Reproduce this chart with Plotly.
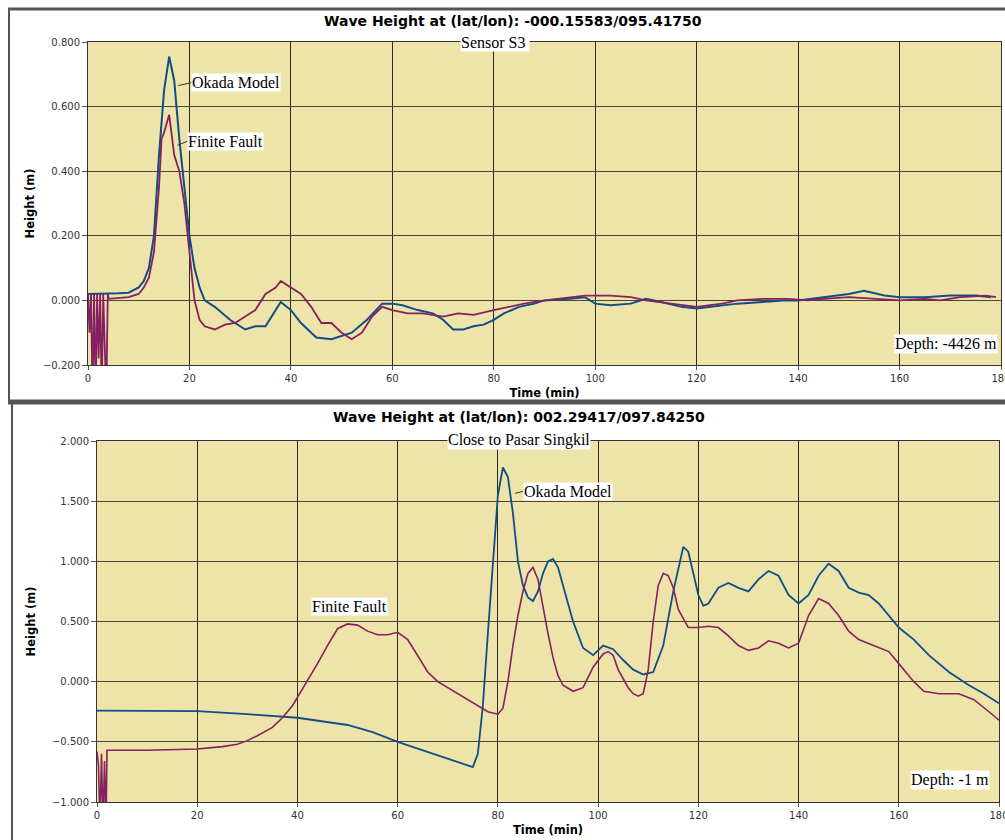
import plotly.graph_objects as go

# ---------------- data: top panel (Sensor S3) ----------------
top_okada_t = [0, 2, 4, 6, 8, 10, 11, 12, 13, 14, 15, 16, 17, 18, 19, 20, 21, 22, 23, 25, 28, 31, 33, 35,
               38, 40, 42, 45, 48, 50, 52, 55, 58, 60, 62, 65, 68, 70, 72, 74, 76, 78, 80, 82, 85, 88,
               90, 95, 98, 100, 103, 107, 110, 113, 117, 120, 125, 128, 133, 137, 140, 145, 150, 153,
               157, 160, 165, 170, 175, 178]
top_okada_h = [0.020, 0.020, 0.021, 0.022, 0.024, 0.040, 0.060, 0.100, 0.200, 0.450, 0.650, 0.755, 0.680,
               0.500, 0.350, 0.200, 0.100, 0.040, 0.000, -0.020, -0.060, -0.090, -0.080, -0.080,
               -0.005, -0.030, -0.070, -0.115, -0.120, -0.110, -0.100, -0.060, -0.010, -0.010,
               -0.015, -0.030, -0.040, -0.060, -0.090, -0.090, -0.080, -0.075, -0.060, -0.040,
               -0.020, -0.010, 0.000, 0.005, 0.010, -0.010, -0.015, -0.010, 0.005, -0.005, -0.020,
               -0.025, -0.015, -0.010, -0.005, 0.000, 0.000, 0.010, 0.020, 0.030, 0.015, 0.010,
               0.010, 0.015, 0.015, 0.010]

top_ff_t = [0, 0.3, 0.6, 0.9, 1.2, 1.5, 1.8, 2.1, 2.4, 2.7, 3.0, 3.3, 3.6, 3.9, 4.1, 8, 10, 11, 12, 13,
            14, 14.5, 15, 16, 17, 18, 19, 20, 21, 22, 23, 25, 27, 29, 31, 33, 35, 37, 38, 40, 42, 44,
            46, 48, 50, 52, 54, 56, 58, 60, 63, 66, 70, 73, 76, 80, 83, 86, 90, 95, 98, 103, 107, 110,
            115, 120, 125, 128, 133, 138, 142, 145, 150, 155, 160, 165, 168, 172, 177, 179]
top_ff_h = [0.020, -0.100, 0.020, -0.300, 0.020, -0.300, 0.020, -0.180, 0.020, -0.300, 0.020, -0.180,
            -0.300, 0.020, 0.005, 0.010, 0.020, 0.040, 0.070, 0.150, 0.350, 0.500, 0.520, 0.575, 0.450,
            0.400, 0.300, 0.150, 0.000, -0.060, -0.080, -0.090, -0.075, -0.070, -0.050, -0.030, 0.020,
            0.040, 0.060, 0.040, 0.020, -0.020, -0.070, -0.070, -0.100, -0.120, -0.100, -0.050,
            -0.020, -0.030, -0.040, -0.040, -0.050, -0.040, -0.045, -0.030, -0.020, -0.010, 0.000,
            0.010, 0.015, 0.015, 0.010, 0.000, -0.010, -0.020, -0.010, 0.000, 0.005, 0.005, 0.000,
            0.005, 0.010, 0.005, 0.000, 0.005, 0.000, 0.010, 0.015, 0.010]

# ---------------- data: bottom panel (Close to Pasar Singkil) ----------------
bot_okada_t = [0, 10, 20, 30, 40, 50, 55, 60, 65, 70, 74, 75, 76, 77, 78, 79, 80, 81, 82, 83, 84, 85,
               86, 87, 88, 89, 90, 91, 92, 93, 95, 97, 99, 101, 103, 105, 107, 109, 111, 113, 115,
               117, 118, 119, 120, 121, 122, 124, 126, 128, 130, 132, 134, 136, 138, 140, 142, 144,
               146, 148, 150, 152, 154, 156, 158, 160, 163, 166, 170, 174, 177, 180]
bot_okada_h = [-0.240, -0.240, -0.245, -0.270, -0.300, -0.360, -0.420, -0.500, -0.570, -0.640, -0.700,
               -0.710, -0.600, -0.200, 0.400, 1.000, 1.550, 1.780, 1.700, 1.400, 1.000, 0.800, 0.700,
               0.670, 0.750, 0.900, 1.000, 1.020, 0.950, 0.800, 0.500, 0.280, 0.220, 0.300, 0.270,
               0.180, 0.100, 0.060, 0.080, 0.300, 0.750, 1.120, 1.080, 0.900, 0.720, 0.630, 0.650,
               0.780, 0.820, 0.780, 0.750, 0.850, 0.920, 0.880, 0.720, 0.650, 0.720, 0.880, 0.980,
               0.920, 0.780, 0.740, 0.720, 0.650, 0.550, 0.450, 0.350, 0.220, 0.080, -0.030, -0.100,
               -0.180]

bot_ff_t = [0, 0.3, 0.6, 0.9, 1.2, 1.5, 1.8, 2.0, 10, 20, 25, 28, 30, 32, 35, 37, 39, 40, 42, 44, 46,
            48, 50, 52, 54, 56, 58, 60, 62, 64, 66, 68, 70, 72, 74, 76, 78, 80, 81, 82, 83, 84, 85, 86,
            87, 88, 89, 90, 91, 92, 93, 95, 97, 99, 101, 102, 103, 104, 106, 107, 108, 109, 110, 111,
            112, 113, 114, 115, 116, 118, 120, 122, 124, 126, 128, 130, 132, 134, 136, 138, 140, 142,
            144, 146, 148, 150, 152, 155, 158, 160, 163, 165, 168, 172, 175, 178, 180]
bot_ff_h = [-0.580, -0.700, -1.200, -0.600, -1.200, -0.660, -1.200, -0.570, -0.570, -0.560, -0.540,
            -0.520, -0.490, -0.450, -0.380, -0.300, -0.200, -0.130, 0.000, 0.150, 0.300, 0.440,
            0.480, 0.470, 0.420, 0.390, 0.390, 0.410, 0.350, 0.220, 0.080, 0.000, -0.050, -0.100,
            -0.150, -0.200, -0.250, -0.270, -0.220, 0.000, 0.300, 0.550, 0.750, 0.900, 0.950, 0.850,
            0.620, 0.400, 0.200, 0.050, -0.030, -0.080, -0.050, 0.120, 0.230, 0.250, 0.220, 0.100,
            -0.050, -0.100, -0.120, -0.100, 0.100, 0.500, 0.800, 0.900, 0.880, 0.780, 0.600, 0.450,
            0.450, 0.460, 0.450, 0.380, 0.300, 0.260, 0.280, 0.340, 0.320, 0.280, 0.320, 0.550,
            0.690, 0.650, 0.550, 0.420, 0.350, 0.300, 0.250, 0.150, 0.000, -0.080, -0.100, -0.100,
            -0.150, -0.250, -0.320]

x_ticks = [0, 20, 40, 60, 80, 100, 120, 140, 160, 180]

W, H = 1005, 840
BLUE = "#0E4F86"
PURPLE = "#862060"
BG = "#EEE3A9"

def px_x(p):
    return p / W

def px_y(p):
    return 1 - p / H

fig = go.Figure()
fig.add_trace(go.Scatter(x=top_okada_t, y=top_okada_h, mode="lines", line=dict(color=BLUE, width=2),
                         xaxis="x", yaxis="y", name="Okada Model"))
fig.add_trace(go.Scatter(x=top_ff_t, y=top_ff_h, mode="lines", line=dict(color=PURPLE, width=1.8),
                         xaxis="x", yaxis="y", name="Finite Fault"))
fig.add_trace(go.Scatter(x=bot_okada_t, y=bot_okada_h, mode="lines", line=dict(color=BLUE, width=1.8),
                         xaxis="x2", yaxis="y2", name="Okada Model"))
fig.add_trace(go.Scatter(x=bot_ff_t, y=bot_ff_h, mode="lines", line=dict(color=PURPLE, width=1.6),
                         xaxis="x2", yaxis="y2", name="Finite Fault"))

tickfont = dict(family="DejaVu Sans", size=10, color="#333")
axtitle = dict(family="DejaVu Sans", size=11.5, color="#000")

common_x = dict(range=[0, 180], tickvals=x_ticks, showgrid=True, gridcolor="#2b2b22", gridwidth=1,
                showline=True, linecolor="#333", mirror=True, ticks="outside", ticklen=4,
                tickcolor="#555", tickfont=tickfont, zeroline=False, fixedrange=True, automargin=False,
                ticklabeloverflow="allow")
common_y = dict(showgrid=True, gridcolor="#4a4636", gridwidth=1, showline=True, linecolor="#333",
                mirror=True, ticks="outside", ticklen=5, tickcolor="#555", tickfont=tickfont,
                zeroline=False, tickformat=".3f", fixedrange=True, automargin=False)

fig.update_layout(
    width=W, height=H, margin=dict(l=0, r=0, t=0, b=0, autoexpand=False),
    paper_bgcolor="white", plot_bgcolor=BG, showlegend=False,
    xaxis=dict(common_x, domain=[px_x(88), px_x(1001)], anchor="y",
               title=dict(text="<b>Time (min)</b>", font=axtitle, standoff=5)),
    yaxis=dict(common_y, domain=[px_y(365), px_y(42)], anchor="x", range=[-0.2, 0.8], dtick=0.2,
               title=dict(text="<b>Height (m)</b>", font=axtitle, standoff=5)),
    xaxis2=dict(common_x, domain=[px_x(97), px_x(999)], anchor="y2",
                title=dict(text="<b>Time (min)</b>", font=axtitle, standoff=5)),
    yaxis2=dict(common_y, domain=[px_y(802), px_y(441)], anchor="x2", range=[-1.0, 2.0], dtick=0.5,
                title=dict(text="<b>Height (m)</b>", font=axtitle, standoff=13)),
)

serif = dict(family="Liberation Serif", size=16, color="#000")
title_font = dict(family="DejaVu Sans", size=14, color="#000")

def paper_text(text, x, y, font, xanchor="center", bg=None):
    d = dict(text=text, x=px_x(x), y=px_y(y), xref="paper", yref="paper", showarrow=False,
             font=font, xanchor=xanchor, yanchor="middle", borderpad=0)
    if bg:
        d["bgcolor"] = bg
    return d

ann = [
    paper_text("<b>Wave Height at (lat/lon): -000.15583/095.41750</b>", 513, 21, title_font),
    paper_text("<b>Wave Height at (lat/lon): 002.29417/097.84250</b>", 519, 417, title_font),
    paper_text("Sensor S3 ", 495, 42, serif, bg="white"),
    paper_text("Close to Pasar Singkil", 519, 440, serif, bg="white"),
    paper_text("Depth: -4426 m", 998, 344, serif, xanchor="right", bg="white"),
    paper_text("Depth: -1 m", 990, 780, serif, xanchor="right", bg="white"),
    paper_text("Finite Fault", 349, 606, serif, bg="white"),
    dict(text="Okada Model", x=17.8, y=0.665, xref="x", yref="y", ax=13, ay=-3, xanchor="left",
         yanchor="middle", showarrow=True, arrowhead=0, arrowwidth=1, arrowcolor="#333", font=serif,
         bgcolor="white", borderpad=0),
    dict(text="Finite Fault", x=17.6, y=0.48, xref="x", yref="y", ax=10, ay=-4, xanchor="left",
         yanchor="middle", showarrow=True, arrowhead=0, arrowwidth=1, arrowcolor="#333", font=serif,
         bgcolor="white", borderpad=0),
    dict(text="Okada Model", x=83.4, y=1.565, xref="x2", yref="y2", ax=8, ay=-2, xanchor="left",
         yanchor="middle", showarrow=True, arrowhead=0, arrowwidth=1, arrowcolor="#333", font=serif,
         bgcolor="white", borderpad=0),
]
fig.update_layout(annotations=ann)

frame = "#555555"
shapes = [
    dict(type="line", xref="paper", yref="paper", x0=px_x(8), x1=1.01, y0=px_y(9), y1=px_y(9),
         line=dict(color=frame, width=3)),
    dict(type="line", xref="paper", yref="paper", x0=px_x(9), x1=px_x(9), y0=px_y(8), y1=px_y(403),
         line=dict(color=frame, width=2)),
    dict(type="line", xref="paper", yref="paper", x0=px_x(8), x1=1.01, y0=px_y(402), y1=px_y(402),
         line=dict(color=frame, width=5)),
    dict(type="line", xref="paper", yref="paper", x0=px_x(12), x1=px_x(12), y0=px_y(402), y1=-0.01,
         line=dict(color=frame, width=2)),
]
fig.update_layout(shapes=shapes)

fig.write_html("out.html", config={"displayModeBar": False},
               post_script="document.body.style.margin='0';document.body.style.overflow='hidden';")
